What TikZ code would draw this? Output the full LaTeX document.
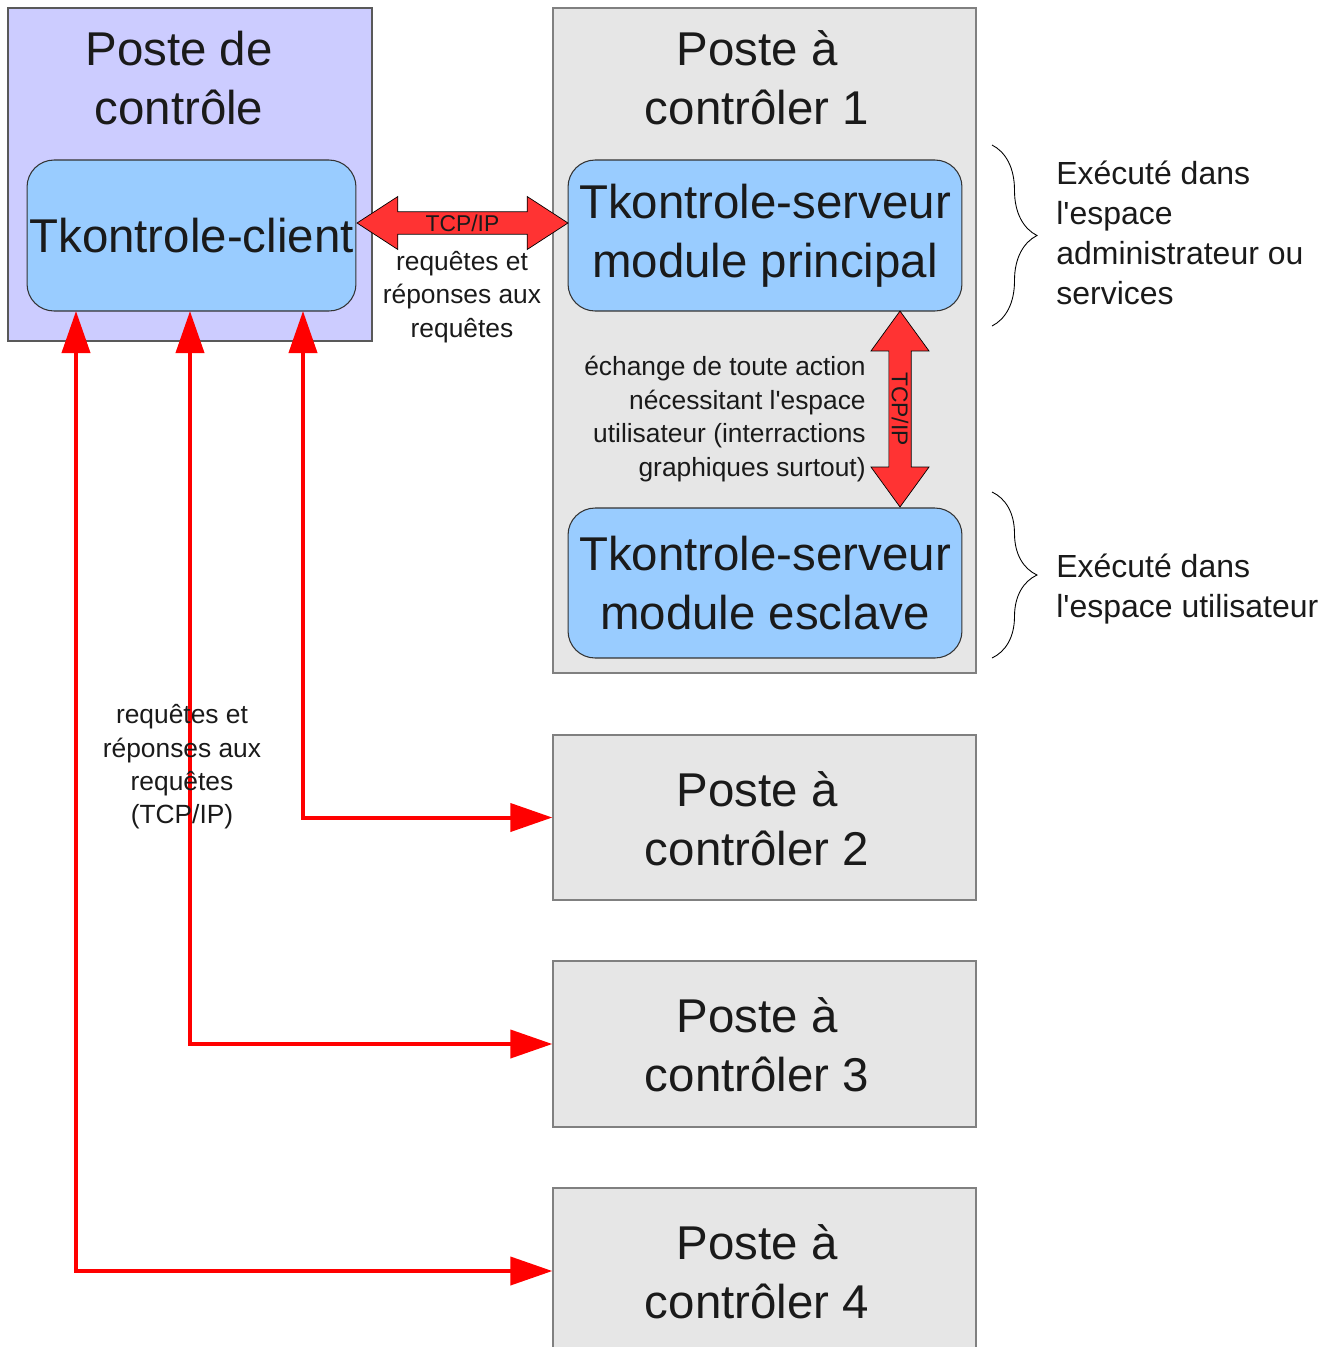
\documentclass[tikz,border=0pt]{standalone}
\usepackage{fontspec}
\setmainfont{Liberation Sans}[Ligatures=TeXOff]
\usepackage{xcolor}
\usepackage{tikz}
\usetikzlibrary{positioning,calc,shapes.arrows,arrows.meta,decorations.pathreplacing}
\definecolor{ctrlblue}{HTML}{CCCCFF}
\definecolor{modblue}{HTML}{99CCFF}
\definecolor{postegray}{HTML}{E6E6E6}
\definecolor{fatred}{HTML}{FF3333}
\definecolor{txtgray}{HTML}{1A1A1A}
\tikzstyle{bigtxt}=[align=center, inner sep=0pt, text=txtgray, font=\fontsize{27}{33.6}\selectfont]
\tikzstyle{smalltxt}=[align=center, inner sep=0pt, text=txtgray, font=\fontsize{15}{19}\selectfont]
\tikzstyle{sidetxt}=[align=left, inner sep=0pt, anchor=west, text=txtgray, font=\fontsize{18.2}{22.8}\selectfont]
\tikzstyle{poste}=[rectangle, draw=gray, line width=0.8pt, fill=postegray, minimum width=8.46cm]
\tikzstyle{module}=[rectangle, rounded corners=0.54cm, draw=black!80, line width=0.6pt, fill=modblue, minimum width=7.88cm, minimum height=3.02cm, bigtxt]
\tikzstyle{fatarrow}=[double arrow, draw=black, line width=0.4pt, fill=fatred, inner sep=0pt, double arrow head indent=0pt, text=txtgray, font=\fontsize{13}{15}\selectfont]
\tikzstyle{redline}=[draw=red, line width=0.08cm, {Triangle[length=0.84cm,width=0.56cm]}-{Triangle[length=0.84cm,width=0.56cm]}]

\begin{document}
\begin{tikzpicture}[x=0.02cm, y=-0.02cm]
	\useasboundingbox (0,0) rectangle (1336,1347);
	\node[rectangle, draw=black!65, line width=0.8pt, fill=ctrlblue, minimum width=7.28cm, minimum height=6.66cm] (ctrl) at (190, 174.5) {};
	\node[poste, minimum height=13.3cm] (poste1) at (764.5, 340.5) {};
	\node[bigtxt] (ctrltxt) at (179, 78) {Poste de\\contrôle};
	\node[bigtxt] (poste1txt) at (757, 78) {Poste à\\contrôler 1};
	\node[module, minimum width=6.58cm] (client) at (191.5, 235.5) {Tkontrole-client};
	\node[module] (principal) at (765, 235.5) {Tkontrole-serveur\\module principal};
	\node[module, minimum height=3.0cm] (esclave) at (765, 583) {Tkontrole-serveur\\module esclave};
	\node[poste, minimum height=3.3cm] (poste2) at (764.5, 817.5) {};
	\node[poste, minimum height=3.32cm] (poste3) at (764.5, 1044) {};
	\node[poste, minimum height=3.32cm] (poste4) at (764.5, 1271) {};
	\node[bigtxt] (poste2txt) at (757, 818.5) {Poste à\\contrôler 2};
	\node[bigtxt] (poste3txt) at (757, 1045) {Poste à\\contrôler 3};
	\node[bigtxt] (poste4txt) at (757, 1272) {Poste à\\contrôler 4};
	\node[fatarrow, minimum height=4.22cm, minimum width=1.06cm, double arrow head extend=0.24cm, double arrow tip angle=66] (tcph) at (462.5, 223) {TCP/IP};
	\node[fatarrow, rotate=-90, minimum height=3.92cm, minimum width=1.16cm, double arrow head extend=0.28cm, double arrow tip angle=72] (tcpv) at (900, 409) {TCP/IP};
	\node[smalltxt] (reqh) at (462, 297) {requêtes et\\réponses aux\\requêtes};
	\node[smalltxt, align=right, anchor=east] (echange) at (866, 419) {échange de toute action\\nécessitant l'espace\\utilisateur (interractions\\graphiques surtout)};
	\node[sidetxt] (admtxt) at (1056, 233) {Exécuté dans\\l'espace\\administrateur ou\\services};
	\node[sidetxt] (usrtxt) at (1056, 589) {Exécuté dans\\l'espace utilisateur};
	\coordinate (b1top) at (992, 145);
	\coordinate (b1bot) at (992, 326);
	\coordinate (b2top) at (992, 492);
	\coordinate (b2bot) at (992, 658);
	\draw[decorate, decoration={brace, amplitude=0.9cm}, line width=0.5pt] (b1top) -- (b1bot);
	\draw[decorate, decoration={brace, amplitude=0.9cm}, line width=0.5pt] (b2top) -- (b2bot);
	\coordinate (c2) at (303, 311);
	\coordinate (c3) at (190, 311);
	\coordinate (c4) at (76, 311);
	\draw[redline](c2) |- (poste2.west);
	\draw[redline](c3) |- (poste3.west);
	\draw[redline](c4) |- (poste4.west);
	\node[smalltxt] (reqv) at (182, 767) {requêtes et\\réponses aux\\requêtes\\(TCP/IP)};
\end{tikzpicture}
\end{document}
